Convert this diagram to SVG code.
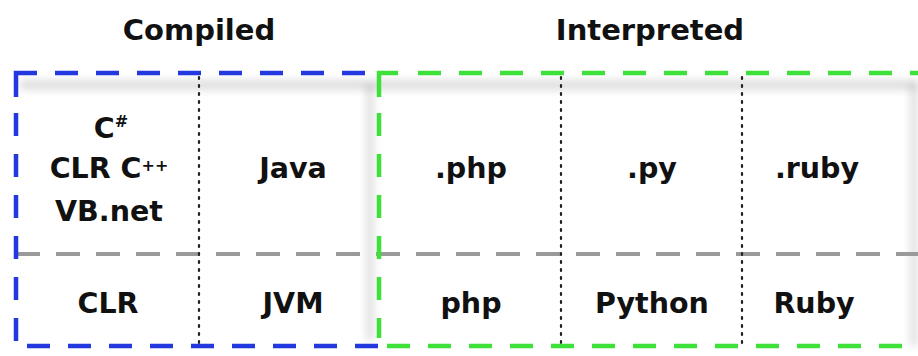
<svg xmlns="http://www.w3.org/2000/svg" width="918" height="356" viewBox="0 0 918 356">
  <defs>
    <filter id="blur" x="-10%" y="-50%" width="120%" height="200%">
      <feGaussianBlur stdDeviation="4"/>
    </filter>
    <style>
      text { font-family: "DejaVu Sans", "Liberation Sans", sans-serif; font-weight: bold; fill: #111; text-anchor: middle; }
      .title { font-size: 29px; }
      .cell { font-size: 28.5px; }
      .sup { font-size: 16px; }
      .blue { stroke: #2438e0; stroke-width: 4.5; fill: none; stroke-dasharray: 23 18; stroke-linecap: butt; }
      .green { stroke: #3ee03a; stroke-width: 4.5; fill: none; stroke-dasharray: 23 18; }
      .gray { stroke: #9a9a9a; stroke-width: 4; fill: none; stroke-dasharray: 24 16; }
      .dot { stroke: #222; stroke-width: 2.2; fill: none; stroke-dasharray: 2 6; stroke-linecap: round; }
      .shadow { stroke: #000; stroke-opacity: 0.16; fill: none; }
    </style>
  </defs>
  <rect width="918" height="356" fill="#ffffff"/>

  <g id="shadows" filter="url(#blur)">
    <line class="shadow" x1="20" y1="85" x2="918" y2="85" stroke-width="8"/>
    <line class="shadow" x1="370" y1="84" x2="370" y2="340" stroke-width="6"/>
    <line class="shadow" x1="914" y1="84" x2="914" y2="346" stroke-width="6"/>
  </g>

  <g id="titles">
    <text class="title" x="199" y="40">Compiled</text>
    <text class="title" x="650" y="40">Interpreted</text>
  </g>

  <g id="connectors">
    <line class="gray" x1="16" y1="254" x2="918" y2="254"/>
    <line class="dot" x1="199" y1="77" x2="199" y2="346"/>
    <line class="dot" x1="561" y1="77" x2="561" y2="346"/>
    <line class="dot" x1="742" y1="77" x2="742" y2="346"/>
  </g>

  <g id="compiled-box">
    <path d="M16,97 L16,73 L37,73" stroke="#2438e0" stroke-width="4.5" fill="none"/>
    <line class="blue" x1="55" y1="73" x2="379" y2="73"/>
    <line class="blue" x1="16" y1="113" x2="16" y2="346"/>
    <line class="blue" x1="27" y1="346" x2="379" y2="346"/>
  </g>

  <g id="interpreted-box">
    <path d="M379,97 L379,73 L398,73" stroke="#3ee03a" stroke-width="4.5" fill="none"/>
    <line class="green" x1="418" y1="73" x2="918" y2="73"/>
    <line class="green" x1="379" y1="113" x2="379" y2="338"/>
    <line class="green" x1="387" y1="346" x2="918" y2="346"/>
  </g>

  <g id="node-csharp">
    <text class="cell" x="111" y="138">C<tspan class="sup" dy="-11">#</tspan></text>
    <text class="cell" x="109" y="178">CLR C<tspan class="sup" dy="-7">++</tspan></text>
    <text class="cell" x="109" y="221">VB.net</text>
  </g>
  <g id="node-java"><text class="cell" x="293" y="178">Java</text></g>
  <g id="node-php-src"><text class="cell" x="471" y="178">.php</text></g>
  <g id="node-py-src"><text class="cell" x="652" y="178">.py</text></g>
  <g id="node-ruby-src"><text class="cell" x="817" y="178">.ruby</text></g>
  <g id="node-clr"><text class="cell" x="108" y="313">CLR</text></g>
  <g id="node-jvm"><text class="cell" x="293" y="313">JVM</text></g>
  <g id="node-php"><text class="cell" x="471" y="313">php</text></g>
  <g id="node-python"><text class="cell" x="652" y="313">Python</text></g>
  <g id="node-ruby"><text class="cell" x="814" y="313">Ruby</text></g>
</svg>
